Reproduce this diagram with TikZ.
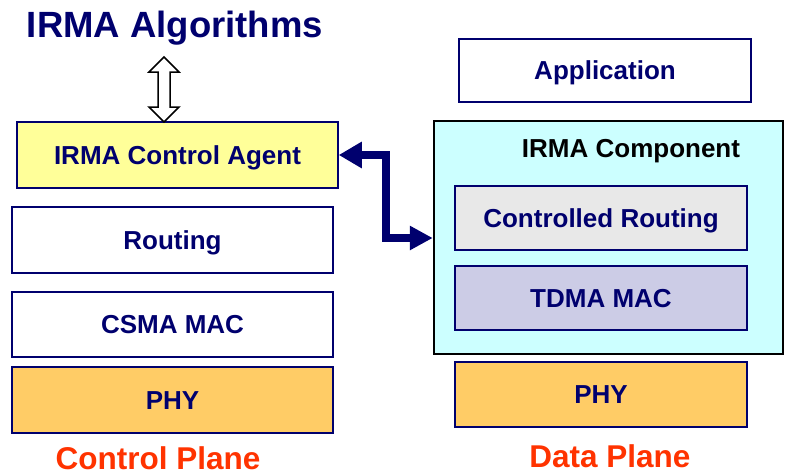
\documentclass[tikz,border=0pt]{standalone}
\usepackage{fontspec}
\setmainfont{Liberation Sans}
\usetikzlibrary{arrows.meta}
\definecolor{navy}{RGB}{0,0,110}
\definecolor{agentfill}{RGB}{255,255,153}
\definecolor{phyfill}{RGB}{255,204,102}
\definecolor{compfill}{RGB}{204,255,255}
\definecolor{routefill}{RGB}{232,232,232}
\definecolor{tdmafill}{RGB}{204,204,230}
\definecolor{planecol}{RGB}{255,51,0}
\tikzset{
  layer/.style={draw=navy, line width=1.5pt, inner sep=0pt, text=navy,
    font=\bfseries\fontsize{26}{30}\selectfont, text height=18.6pt, text depth=0pt},
  leftbox/.style={layer, minimum width=321pt, minimum height=66pt},
  rightbox/.style={layer, minimum width=292pt, minimum height=64pt},
  planelabel/.style={text=planecol, font=\bfseries\fontsize{31.5}{36}\selectfont,
    text height=22.5pt, text depth=0pt, inner sep=0pt},
  linkarrow/.style={draw=navy, line width=7.5pt, line join=miter,
    {Triangle[width=25pt,length=23pt]}-{Triangle[width=23pt,length=23pt]}},
  hollowarrow/.style={draw=black, line width=1.5pt, fill=white, line join=miter}
}
\begin{document}
\begin{tikzpicture}[x=1pt,y=-1pt]
\useasboundingbox (0,0) rectangle (787,471);

% title
\node[text=navy, font=\bfseries\fontsize{36.5}{40}\selectfont,
      text height=26pt, text depth=0pt, inner sep=0pt]
  (title) at (175,24.5) {IRMA Algorithms};

% control plane stack
\node[leftbox, fill=agentfill] (agent) at (177.5,155) {IRMA Control Agent};
\node[leftbox, fill=white] (routing) at (172.5,240) {Routing};
\node[leftbox, fill=white, minimum height=65pt] (csma) at (172.5,324.5) {CSMA MAC};
\node[leftbox, fill=phyfill] (phyl) at (172.5,400) {PHY};
\node[planelabel] (cplane) at (158,458.5) {Control Plane};

% data plane stack
\node[rightbox, fill=white, minimum height=63pt] (app) at (605,70.5) {Application};
\node[draw=black, line width=2.5pt, fill=compfill, minimum width=349pt,
      minimum height=233pt, inner sep=0pt] (comp) at (608.5,237.5) {};
\node[text=black, font=\bfseries\fontsize{26}{30}\selectfont,
      text height=18.6pt, text depth=0pt, inner sep=0pt]
  (comptitle) at (631,148) {IRMA Component};
\node[rightbox, fill=routefill] (croute) at (601,218) {Controlled Routing};
\node[rightbox, fill=tdmafill] (tdma) at (601,298) {TDMA MAC};
\node[rightbox, fill=phyfill, minimum height=65pt] (phyr) at (601,394.5) {PHY};
\node[planelabel] (dplane) at (610,456) {Data Plane};

% hollow two-way arrow between the algorithms and the agent
\coordinate (dtop) at (164,57);
\coordinate (dbot) at (164,122);
\draw[hollowarrow] (dtop) -- ++(15,15) -- ++(-9,0) -- ++(0,35) -- ++(9,0)
  -- (dbot) -- ++(-15,-15) -- ++(9,0) -- ++(0,-35) -- ++(-9,0) -- cycle;

% link between the agent and the component
\coordinate (bendup) at (386,155);
\coordinate (benddown) at (386,238);
\draw[linkarrow] (agent.east) -- (bendup) -- (benddown) -- (benddown -| comp.west);
\end{tikzpicture}
\end{document}
